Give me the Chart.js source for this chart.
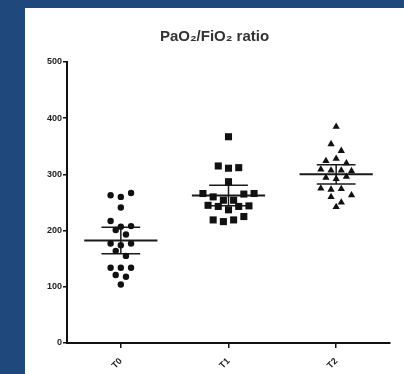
<!DOCTYPE html>
<html>
<head>
<meta charset="utf-8">
<script src="https://cdn.jsdelivr.net/npm/chart.js@4"></script>
<style>
html, body { margin: 0; padding: 0; background: #1f497d; }
#panel { position: absolute; left: 25px; top: 8px; width: 379px; height: 366px; background: #fff; }
</style>
</head>
<body>
<div id="panel"><canvas id="chart" width="379" height="366"></canvas></div>
<script>
var groups = ['T0', 'T1', 'T2'];
var t0Values = [263, 260, 267, 241, 217, 207, 208, 201, 193, 177, 174, 177, 164, 155, 134, 121, 134, 134, 118, 104];
var t1Values = [367, 315, 311, 312, 287, 266, 260, 254, 254, 265, 266, 245, 243, 237, 243, 244, 219, 216, 219, 225];
var t2Values = [385, 354, 342, 324, 328, 320, 309, 307, 307, 306, 294, 292, 296, 275, 273, 274, 260, 263, 250, 242];
var yTicks = [0, 100, 200, 300, 400, 500];

var T_95 = 2.093; // t value, df = 19

// GraphPad style column scatter: values close together are spread sideways
function spreadOffsets(values, rowSpan, step){
    var order = values.map((v, i) => i).sort((a, b) => values[b] - values[a]);
    var offsets = new Array(values.length);
    var row = [];
    function flush(){
        row.sort((a, b) => a - b);
        row.forEach((idx, k) => { offsets[idx] = (k - (row.length - 1) / 2) * step; });
        row = [];
    }
    order.forEach(idx => {
        if(row.length && values[row[0]] - values[idx] > rowSpan) flush();
        row.push(idx);
    });
    flush();
    return offsets;
}

function stats(values){
    var n = values.length;
    var mean = values.reduce((a, b) => a + b, 0) / n;
    var sd = Math.sqrt(values.reduce((a, b) => a + (b - mean) * (b - mean), 0) / (n - 1));
    var ci = T_95 * sd / Math.sqrt(n);
    return {mean: mean, lo: mean - ci, hi: mean + ci};
}

function line(points, width){
    return {
        data: points,
        showLine: true,
        pointRadius: 0,
        borderColor: '#1a1a1a',
        borderWidth: width
    };
}

var allValues = [t0Values, t1Values, t2Values];
var styles = [
    {pointStyle: 'circle', radius: 3.2},
    {pointStyle: 'rect', radius: 5},
    {pointStyle: 'triangle', radius: 4.2}
];

var datasets = [];
allValues.forEach((values, g) => {
    var offs = spreadOffsets(values, 12, 0.095);
    datasets.push({
        data: values.map((v, i) => ({x: g + offs[i], y: v})),
        pointStyle: styles[g].pointStyle,
        pointRadius: styles[g].radius,
        backgroundColor: '#111',
        borderColor: '#111',
        borderWidth: 0
    });
    var s = stats(values);
    datasets.push(line([{x: g - 0.34, y: s.mean}, {x: g + 0.34, y: s.mean}], 2));
    datasets.push(line([{x: g - 0.18, y: s.hi}, {x: g + 0.18, y: s.hi}], 1.5));
    datasets.push(line([{x: g - 0.18, y: s.lo}, {x: g + 0.18, y: s.lo}], 1.5));
    datasets.push(line([{x: g, y: s.lo}, {x: g, y: s.hi}], 1.5));
});

var tickFont = {family: 'Liberation Sans, Arial, sans-serif', size: 9, weight: 'bold'};

new Chart(document.getElementById('chart').getContext('2d'), {
    type: 'scatter',
    data: {datasets: datasets},
    options: {
        responsive: false,
        animation: false,
        layout: {padding: {left: 14, right: 14, top: 0, bottom: 0}},
        plugins: {
            legend: {display: false},
            tooltip: {enabled: false},
            title: {
                display: true,
                text: 'PaO\u2082/FiO\u2082 ratio',
                color: '#333',
                font: {family: 'Liberation Sans, Arial, sans-serif', size: 15, weight: 'bold'},
                padding: {top: 20, bottom: 16}
            }
        },
        scales: {
            x: {
                type: 'linear',
                min: -0.5,
                max: 2.5,
                afterBuildTicks: s => { s.ticks = groups.map((name, i) => ({value: i})); },
                afterFit: s => { s.height = 31; },
                ticks: {
                    callback: v => groups[v],
                    autoSkip: false,
                    minRotation: 45,
                    maxRotation: 45,
                    padding: 8,
                    color: '#222',
                    font: tickFont
                },
                grid: {drawOnChartArea: false, drawTicks: true, tickLength: 5, color: '#111', lineWidth: 1.5},
                border: {color: '#111', width: 2}
            },
            y: {
                min: 0,
                max: 500,
                afterBuildTicks: s => { s.ticks = yTicks.map(v => ({value: v})); },
                afterFit: s => { s.width = 28; },
                ticks: {
                    padding: 1,
                    color: '#222',
                    font: tickFont
                },
                grid: {drawOnChartArea: false, drawTicks: true, tickLength: 4, color: '#111', lineWidth: 1.5},
                border: {color: '#111', width: 2}
            }
        }
    }
});
</script>
</body>
</html>
